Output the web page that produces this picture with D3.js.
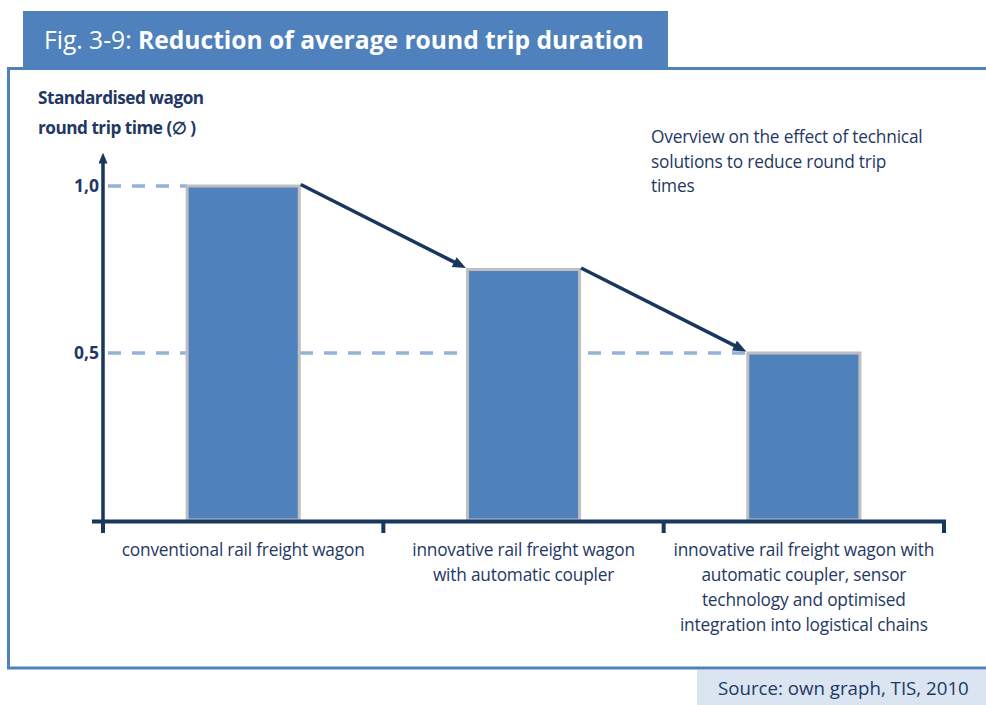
<!DOCTYPE html>
<html>
<head>
<meta charset="utf-8">
<script src="https://cdn.jsdelivr.net/npm/d3@7"></script>
<style>
  html, body { margin: 0; padding: 0; background: #fff; }
  svg { display: block; font-family: "Open Sans", "Noto Sans", sans-serif; }
</style>
</head>
<body>
<svg id="chart" width="986" height="705"></svg>
<script>
// ---- data ----
const categories = [
  "conventional rail freight wagon",
  "innovative rail freight wagon\nwith automatic coupler",
  "innovative rail freight wagon with\nautomatic coupler, sensor\ntechnology and optimised\nintegration into logistical chains"
];
const roundTripTime = [1.0, 0.75, 0.5];
const yTicks = [0.5, 1.0];
const titlePrefix = "Fig. 3-9: ";
const titleMain = "Reduction of average round trip duration";
const yTitle = ["Standardised wagon", "round trip  time (\u2205 )"];
const note = ["Overview on the effect of technical", "solutions  to reduce round trip", "times"];
const source = "Source: own graph, TIS, 2010";

// ---- styles ----
const frameBlue = "#4F81BD";
const barFill = "#4F81BD";
const barStroke = "#BFBFBF";
const navy = "#17375E";
const textNavy = "#1F3864";
const dashBlue = "#95B3D7";

const svg = d3.select("#chart");

// shrink/grow a text's font so it spans the given width
function fitWidth(sel, target) {
  const node = sel.node();
  const fs = parseFloat(sel.attr("font-size"));
  const w = node.getComputedTextLength();
  sel.attr("font-size", (fs * target / w).toFixed(2));
}

// ---- frame ----
svg.append("rect").attr("x", 23).attr("y", 11).attr("width", 645).attr("height", 58)
  .attr("fill", frameBlue);
const frame = svg.append("g").attr("stroke", frameBlue).attr("stroke-width", 3).attr("fill", "none");
frame.append("path").attr("d", "M986,68.5 H8.5 V668 H986");
svg.append("rect").attr("x", 697).attr("y", 670).attr("width", 289).attr("height", 35)
  .attr("fill", "#DBE5F1");
svg.append("text").attr("x", 718).attr("y", 695).attr("font-size", 17).attr("fill", textNavy)
  .text(source).call(fitWidth, 251);

const title = svg.append("text").attr("x", 44).attr("y", 49).attr("font-size", 22).attr("fill", "#fff");
title.append("tspan").text(titlePrefix);
title.append("tspan").attr("font-weight", "bold").text(titleMain);
fitWidth(title, 600);

// ---- scales ----
const x = d3.scaleBand().domain(categories).range([103, 944]).paddingInner(0.6).paddingOuter(0.3);
const y = d3.scaleLinear().domain([0, 1]).range([520, 186]);

const plot = svg.append("g");

// dashed reference lines, each running to the first bar that reaches that value
yTicks.forEach(t => {
  const i = roundTripTime.findIndex(v => Math.abs(v - t) < 1e-9);
  const xEnd = i >= 0 ? x(categories[i]) : x.range()[1];
  plot.append("line")
    .attr("x1", 108).attr("x2", xEnd)
    .attr("y1", y(t)).attr("y2", y(t))
    .attr("stroke", dashBlue).attr("stroke-width", 3.5)
    .attr("stroke-dasharray", "13,11");
});

// bars
plot.selectAll("rect.bar").data(roundTripTime).join("rect")
  .attr("class", "bar")
  .attr("x", (d, i) => x(categories[i]))
  .attr("width", x.bandwidth())
  .attr("y", d => y(d))
  .attr("height", d => y(0) - y(d))
  .attr("fill", barFill)
  .attr("stroke", barStroke)
  .attr("stroke-width", 3);

// arrows between bar tops
const defs = svg.append("defs");
defs.append("marker").attr("id", "head")
  .attr("viewBox", "0 0 12 10").attr("refX", 12).attr("refY", 5)
  .attr("markerWidth", 14).attr("markerHeight", 11)
  .attr("markerUnits", "userSpaceOnUse").attr("orient", "auto")
  .append("path").attr("d", "M0,0 L12,5 L0,10 Z").attr("fill", navy);

for (let i = 0; i < roundTripTime.length - 1; i++) {
  const x1 = x(categories[i]) + x.bandwidth() + 1.5, y1 = y(roundTripTime[i]) - 1.5;
  const x2 = x(categories[i + 1]) - 1.5, y2 = y(roundTripTime[i + 1]) - 1.5;
  const len = Math.hypot(x2 - x1, y2 - y1);
  const cut = 8;
  const xe = x2 - (x2 - x1) * cut / len, ye = y2 - (y2 - y1) * cut / len;
  plot.append("line")
    .attr("x1", x1).attr("y1", y1).attr("x2", xe).attr("y2", ye)
    .attr("stroke", navy).attr("stroke-width", 3.5);
  // short carrier segment so the head tip lands on the bar corner
  plot.append("path")
    .attr("d", `M${xe},${ye}L${x2},${y2}`)
    .attr("stroke", "none").attr("fill", "none")
    .attr("marker-end", "url(#head)");
}

// ---- y axis ----
const fmt = d3.formatLocale({ decimal: ",", thousands: ".", grouping: [3], currency: ["", ""] }).format(".1f");
const yAxis = plot.append("g").attr("transform", "translate(103,0)")
  .call(d3.axisLeft(y).tickValues(yTicks).tickSize(0).tickPadding(4).tickFormat(fmt));
yAxis.select(".domain").remove();
yAxis.selectAll("text").attr("font-size", 17.5).attr("font-weight", "bold").attr("fill", textNavy)
  .attr("font-family", "\"Open Sans\", sans-serif");

defs.append("marker").attr("id", "yhead")
  .attr("viewBox", "0 0 10 12").attr("refX", 5).attr("refY", 0)
  .attr("markerWidth", 9).attr("markerHeight", 11)
  .attr("markerUnits", "userSpaceOnUse").attr("orient", "0")
  .append("path").attr("d", "M0,12 L5,0 L10,12 Z").attr("fill", navy);
plot.append("line")
  .attr("x1", 103).attr("x2", 103)
  .attr("y1", y(0) + 3).attr("y2", y(1.1) + 9)
  .attr("stroke", navy).attr("stroke-width", 3.5);
plot.append("path")
  .attr("d", `M103,${y(1.1) + 9}L103,${y(1.1)}`)
  .attr("stroke", "none").attr("marker-end", "url(#yhead)");

// ---- x axis with boundary ticks ----
const step = x.step(), gap = step * x.paddingInner();
const bounds = [x.range()[0]].concat(categories.map(c => x(c) + x.bandwidth() + gap / 2));
plot.append("line")
  .attr("x1", x.range()[0] - 11).attr("x2", x.range()[1] + 2)
  .attr("y1", y(0) + 1.5).attr("y2", y(0) + 1.5)
  .attr("stroke", navy).attr("stroke-width", 4);
plot.selectAll("line.xtick").data(bounds).join("line")
  .attr("class", "xtick")
  .attr("x1", d => d).attr("x2", d => d)
  .attr("y1", y(0)).attr("y2", y(0) + 13)
  .attr("stroke", navy).attr("stroke-width", 4);

// category labels
categories.forEach(c => {
  const t = plot.append("text")
    .attr("x", x(c) + x.bandwidth() / 2).attr("y", 556)
    .attr("text-anchor", "middle").attr("font-size", 17.3).attr("fill", textNavy)
    .attr("letter-spacing", -0.2);
  c.split("\n").forEach((line, k) => {
    t.append("tspan").attr("x", x(c) + x.bandwidth() / 2).attr("dy", k ? 25 : 0).text(line);
  });
});

// ---- y title and note ----
yTitle.forEach((s, k) => {
  svg.append("text").attr("x", 38).attr("y", 104 + 30 * k)
    .attr("font-size", 17.2).attr("font-weight", "bold").attr("fill", textNavy)
    .attr("letter-spacing", -0.5)
    .text(s);
});
note.forEach((s, k) => {
  svg.append("text").attr("x", 651).attr("y", 143 + 24.5 * k)
    .attr("font-size", 17.3).attr("fill", textNavy)
    .attr("letter-spacing", -0.2)
    .text(s);
});
</script>
</body>
</html>
